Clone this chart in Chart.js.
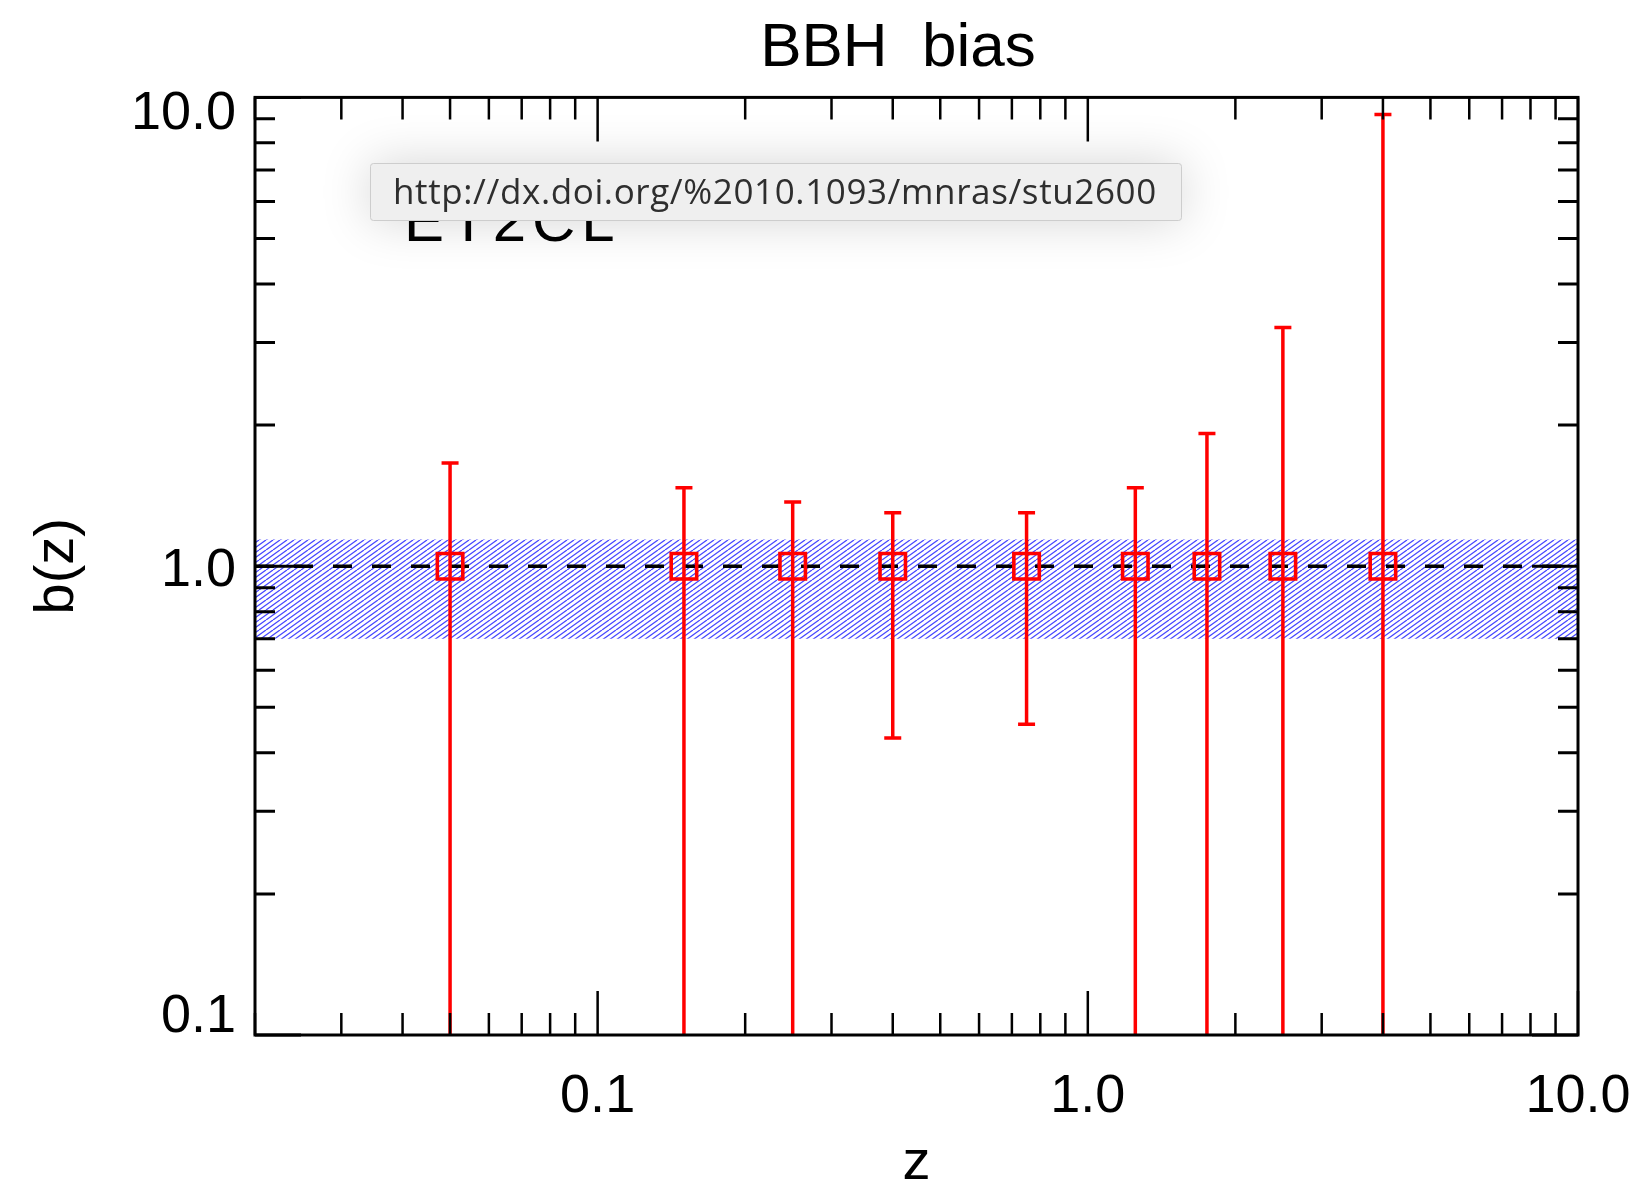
<!DOCTYPE html>
<html>
<head>
<meta charset="utf-8">
<script src="https://cdn.jsdelivr.net/npm/chart.js@4/dist/chart.umd.min.js"></script>
<style>
  html, body { margin: 0; padding: 0; background: #ffffff; overflow: hidden; }
  #wrap { width: 1644px; height: 1187px; }
</style>
</head>
<body>
<div id="wrap"><canvas id="c" width="1644" height="1187"></canvas></div>
<script>
// ---------------- data ----------------
const chartTitle = 'BBH  bias';
const xTitle = 'z';
const yTitle = 'b(z)';
const hiddenLabel = 'ET2CL';
const tooltipText = 'http://dx.doi.org/%2010.1093/mnras/stu2600';

const zValues   = [0.05, 0.15, 0.25, 0.40, 0.75, 1.25, 1.75, 2.50, 4.00];
const bias      = [1.0, 1.0, 1.0, 1.0, 1.0, 1.0, 1.0, 1.0, 1.0];
const biasUpper = [1.66, 1.47, 1.37, 1.30, 1.30, 1.47, 1.92, 3.23, 9.2];
// values below the axis floor (0.1) run off the bottom of the plot
const biasLower = [0.01, 0.01, 0.01, 0.43, 0.46, 0.01, 0.01, 0.01, 0.01];

const bandZ    = [0.02, 10];
const bandHigh = [1.14, 1.14];
const bandLow  = [0.70, 0.70];
const refLine  = [1.0, 1.0];

const xMajorTicks = [0.1, 1, 10];
const xTickLabels = ['0.1', '1.0', '10.0'];
const xMinorTicks = [0.02, 0.03, 0.04, 0.05, 0.06, 0.07, 0.08, 0.09,
                     0.2, 0.3, 0.4, 0.5, 0.6, 0.7, 0.8, 0.9,
                     2, 3, 4, 5, 6, 7, 8, 9];
const yMajorTicks = [0.1, 1, 10];
const yTickLabels = ['0.1', '1.0', '10.0'];
const yMinorTicks = [0.2, 0.3, 0.4, 0.5, 0.6, 0.7, 0.8, 0.9,
                     2, 3, 4, 5, 6, 7, 8, 9];

// ---------------- styles ----------------
const FONT = "'Liberation Sans', Arial, sans-serif";
Chart.defaults.color = '#000';
Chart.defaults.font.family = FONT;
// vertical nudge (px) of each y tick label relative to its tick, as in the original plot
const yLabelNudge = [-18, 5, 17];

function makeHatch() {
  const c = document.createElement('canvas');
  c.width = 14; c.height = 10;
  const g = c.getContext('2d');
  g.strokeStyle = 'rgba(40,40,255,0.85)';
  g.lineWidth = 1.3;
  g.beginPath();
  for (let k = -3; k <= 3; k++) {
    g.moveTo(7 * k, 10);
    g.lineTo(7 * k + 14, 0);
  }
  g.stroke();
  return g.createPattern(c, 'repeat');
}
const hatch = makeHatch();

const toXY = (xs, ys) => xs.map((x, i) => ({ x: x, y: ys[i] }));

// error bars drawn through the chart's scales, just beneath the square markers
const errorBars = {
  id: 'errorBars',
  beforeDatasetDraw(chart, args) {
    if (args.index !== 0) return;
    const { ctx, chartArea: a, scales: { x, y } } = chart;
    ctx.save();
    ctx.beginPath();
    ctx.rect(a.left, a.top, a.right - a.left, a.bottom - a.top);
    ctx.clip();
    ctx.strokeStyle = '#ff0000';
    ctx.lineWidth = 3.5;
    const cap = 8.5;
    zValues.forEach((z, i) => {
      const px = x.getPixelForValue(z);
      const pu = y.getPixelForValue(biasUpper[i]);
      const pl = y.getPixelForValue(biasLower[i]);
      ctx.beginPath();
      ctx.moveTo(px, pu); ctx.lineTo(px, pl);
      ctx.moveTo(px - cap, pu); ctx.lineTo(px + cap, pu);
      ctx.moveTo(px - cap, pl); ctx.lineTo(px + cap, pl);
      ctx.stroke();
    });
    ctx.restore();
  }
};

// frame with inward ticks on all four sides
const frame = {
  id: 'frame',
  afterDatasetsDraw(chart) {
    const { ctx, chartArea: a, scales: { x, y } } = chart;
    ctx.save();
    ctx.strokeStyle = '#000';
    ctx.lineCap = 'butt';
    const xt = (vals, len) => {
      ctx.beginPath();
      vals.forEach(v => {
        const p = x.getPixelForValue(v);
        ctx.moveTo(p, a.bottom); ctx.lineTo(p, a.bottom - len);
        ctx.moveTo(p, a.top); ctx.lineTo(p, a.top + len);
      });
      ctx.stroke();
    };
    const yt = (vals, len) => {
      ctx.beginPath();
      vals.forEach(v => {
        const p = y.getPixelForValue(v);
        ctx.moveTo(a.left, p); ctx.lineTo(a.left + len, p);
        ctx.moveTo(a.right, p); ctx.lineTo(a.right - len, p);
      });
      ctx.stroke();
    };
    ctx.lineWidth = 2.5;
    xt(xMinorTicks, 22);
    xt(xMajorTicks, 44);
    ctx.lineWidth = 3;
    yt(yMinorTicks, 20);
    yt(yMajorTicks, 46);
    ctx.lineWidth = 3;
    ctx.strokeRect(a.left, a.top, a.right - a.left, a.bottom - a.top);
    ctx.restore();
  }
};

// label partly hidden beneath a browser link tooltip
const overlay = {
  id: 'overlay',
  afterDraw(chart) {
    const ctx = chart.ctx;
    ctx.save();
    ctx.fillStyle = '#000';
    ctx.font = '60px ' + FONT;
    ctx.textAlign = 'left';
    ctx.textBaseline = 'alphabetic';
    try { ctx.letterSpacing = '6px'; } catch (e) {}
    ctx.fillText(hiddenLabel, 404, 241);
    try { ctx.letterSpacing = '0px'; } catch (e) {}

    const bx = 370, by = 163, bw = 812, bh = 58;
    ctx.save();
    ctx.shadowColor = 'rgba(0,0,0,0.17)';
    ctx.shadowBlur = 50;
    ctx.fillStyle = '#efefef';
    ctx.beginPath();
    ctx.roundRect ? ctx.roundRect(bx, by, bw, bh, 3) : ctx.rect(bx, by, bw, bh);
    ctx.fill();
    ctx.restore();
    ctx.strokeStyle = '#cdcdcd';
    ctx.lineWidth = 1;
    ctx.beginPath();
    ctx.roundRect ? ctx.roundRect(bx + 0.5, by + 0.5, bw - 1, bh - 1, 3) : ctx.rect(bx + 0.5, by + 0.5, bw - 1, bh - 1);
    ctx.stroke();

    ctx.fillStyle = '#2e2e2e';
    ctx.font = "35px 'Open Sans', 'Liberation Sans', sans-serif";
    const w = ctx.measureText(tooltipText).width;
    const target = 764;
    const ls = (target - w) / tooltipText.length;
    try { ctx.letterSpacing = ls.toFixed(2) + 'px'; } catch (e) {}
    ctx.fillText(tooltipText, 393, 204);
    try { ctx.letterSpacing = '0px'; } catch (e) {}
    ctx.restore();
  }
};

new Chart(document.getElementById('c'), {
  type: 'scatter',
  data: {
    datasets: [
      {
        label: 'b(z)',
        data: toXY(zValues, bias),
        yAxisID: 'y',
        pointStyle: 'rect',
        pointRadius: 18,
        pointBorderWidth: 3.6,
        borderWidth: 3.6,
        borderColor: '#ff0000',
        pointBorderColor: '#ff0000',
        backgroundColor: 'rgba(0,0,0,0)',
        pointBackgroundColor: 'rgba(0,0,0,0)',
        showLine: false
      },
      {
        label: 'b = 1',
        data: toXY(bandZ, refLine),
        yAxisID: 'y',
        showLine: true,
        borderColor: '#000',
        borderWidth: 3.4,
        borderDash: [19, 20],
        pointRadius: 0,
        fill: false
      },
      {
        label: 'band high',
        data: toXY(bandZ, bandHigh),
        yAxisID: 'y',
        showLine: true,
        borderColor: 'rgba(0,0,0,0)',
        borderWidth: 0,
        pointRadius: 0,
        backgroundColor: hatch,
        fill: '+1'
      },
      {
        label: 'band low',
        data: toXY(bandZ, bandLow),
        yAxisID: 'y',
        showLine: true,
        borderColor: 'rgba(0,0,0,0)',
        borderWidth: 0,
        pointRadius: 0,
        fill: false
      }
    ]
  },
  options: {
    responsive: false,
    animation: false,
    events: [],
    layout: { padding: { left: 86, right: -66, top: 0, bottom: 0 } },
    plugins: {
      legend: { display: false },
      tooltip: { enabled: false },
      title: {
        display: true,
        text: chartTitle,
        color: '#000',
        font: { family: FONT, size: 62, weight: 'normal', lineHeight: 1.2 },
        padding: { top: 12, bottom: 11 }
      }
    },
    scales: {
      x: {
        type: 'logarithmic',
        position: 'bottom',
        min: 0.02,
        max: 10,
        grid: { display: false, drawTicks: true, tickLength: 27 },
        border: { display: false },
        afterBuildTicks: s => { s.ticks = xMajorTicks.map(v => ({ value: v, major: true })); },
        afterFit: s => { s.height = 152; },
        ticks: {
          autoSkip: false, maxRotation: 0, minRotation: 0, padding: 3,
          color: '#000', font: { family: FONT, size: 54 },
          callback: (v, i) => xTickLabels[i]
        },
        title: {
          display: true, text: xTitle, color: '#000',
          font: { family: FONT, size: 56, lineHeight: 1 },
          padding: { top: 0, bottom: -5 }
        }
      },
      y: {
        type: 'logarithmic',
        position: 'left',
        min: 0.1,
        max: 10,
        grid: { display: false, drawTicks: false },
        border: { display: false },
        afterBuildTicks: s => { s.ticks = yMajorTicks.map(v => ({ value: v, major: true })); },
        afterFit: s => { s.width = 169; },
        ticks: {
          autoSkip: false, padding: 19,
          color: '#000',
          font: (c) => {
            const n = yLabelNudge[c.index] || 0;
            return { family: FONT, size: 54, lineHeight: (Math.abs(n) * 2 || 1) + 'px' };
          },
          callback: (v, i) => {
            const n = yLabelNudge[i] || 0;
            return n > 0 ? ['', yTickLabels[i]] : (n < 0 ? [yTickLabels[i], ''] : yTickLabels[i]);
          }
        },
        title: {
          display: true, text: yTitle, color: '#000',
          font: { family: FONT, size: 56, lineHeight: 1 },
          padding: { top: -56, bottom: 0 }
        }
      },
      yRight: {
        type: 'linear',
        position: 'right',
        min: 0,
        max: 1,
        display: true,
        grid: { display: false, drawTicks: false },
        border: { display: false },
        ticks: { display: false },
        afterFit: s => { s.width = 132; }
      }
    }
  },
  plugins: [errorBars, frame, overlay]
});
</script>
</body>
</html>
